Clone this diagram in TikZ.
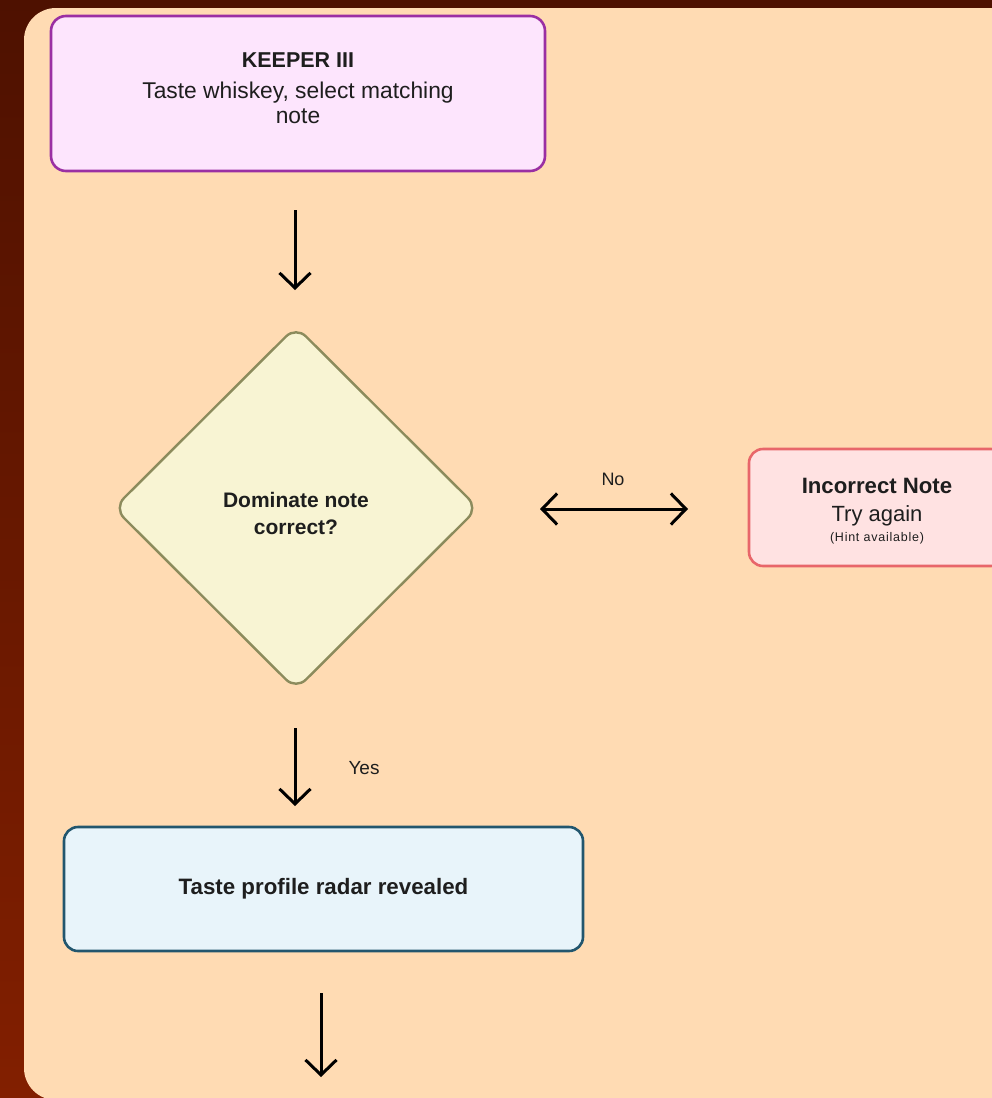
\documentclass[tikz,border=0pt]{standalone}
\usepackage{fontspec}
\setmainfont{Liberation Sans}
\usetikzlibrary{shapes.geometric,arrows.meta}
\definecolor{bgtop}{HTML}{4E1100}
\definecolor{bgbot}{HTML}{821F00}
\definecolor{panelc}{HTML}{FFDBB3}
\definecolor{keepfill}{HTML}{FDE5FD}
\definecolor{keepdraw}{HTML}{9A2FA3}
\definecolor{dfill}{HTML}{F8F4D3}
\definecolor{ddraw}{HTML}{8C8B5C}
\definecolor{ifill}{HTML}{FFE2E2}
\definecolor{idraw}{HTML}{E8666A}
\definecolor{tfill}{HTML}{E8F4FA}
\definecolor{tdraw}{HTML}{22566E}
\definecolor{txt}{HTML}{1E1E1E}
\tikzset{
  boxstyle/.style={rectangle, rounded corners=15pt, line width=2.6pt, inner sep=0pt},
  barb/.style={Straight Barb[length=15pt,width=31pt,line width=3pt]},
  flowarrow/.style={line width=3pt, -{Straight Barb[length=15pt,width=31pt,line width=3pt]}},
  biarrow/.style={line width=3pt, {Straight Barb[length=15pt,width=31pt,line width=3pt]}-{Straight Barb[length=15pt,width=31pt,line width=3pt]}},
  txtstyle/.style={text=txt, align=center, inner sep=0pt},
}
\begin{document}
\begin{tikzpicture}[x=1pt,y=-1pt]
\useasboundingbox (0,0) rectangle (992,1098);
\shade[top color=bgtop, bottom color=bgbot] (0,0) rectangle (992,1098);
\clip (0,0) rectangle (992,1098);
\fill[panelc, rounded corners=32pt] (24,8) rectangle (1040,1100);

% boxes
\node[boxstyle, fill=keepfill, draw=keepdraw, minimum width=494pt, minimum height=155pt] (keeper) at (298,93.5) {};
\node[txtstyle, font=\fontsize{22.8}{25}\selectfont] (keepertxt) at (298,88) {{\bfseries\fontsize{21.5}{25}\selectfont KEEPER III}\\[6pt]Taste whiskey, select matching\\note};

\node[diamond, aspect=1, rounded corners=14pt, fill=dfill, draw=ddraw, line width=2.4pt, minimum width=365pt, minimum height=364pt, inner sep=0pt] (decide) at (296,508) {};
\node[txtstyle, font=\bfseries\fontsize{21}{27}\selectfont] (decidetxt) at (296,513) {Dominate note\\correct?};

\node[boxstyle, rounded corners=14pt, fill=ifill, draw=idraw, minimum width=256pt, minimum height=117pt] (wrong) at (877,507.5) {};
\node[txtstyle, font=\bfseries\fontsize{22.2}{25}\selectfont] (wrongtitle) at (877,486) {Incorrect Note};
\node[txtstyle, font=\fontsize{22}{25}\selectfont] (wrongtry) at (877,516) {Try again};
\node[txtstyle, font=\fontsize{12.5}{14}\selectfont\addfontfeature{LetterSpace=6}] (wronghint) at (877,538) {(Hint available)};

\node[boxstyle, rounded corners=14pt, fill=tfill, draw=tdraw, minimum width=519pt, minimum height=124pt] (radar) at (323.5,889) {};
\node[txtstyle, font=\bfseries\fontsize{22.3}{25}\selectfont] (radartxt) at (323.5,889) {Taste profile radar revealed};

% arrow end points
\coordinate (a1s) at (295,210);
\coordinate (a1e) at (295,290);
\coordinate (a2s) at (540,509);
\coordinate (a2e) at (688,509);
\coordinate (a3s) at (295,728);
\coordinate (a3e) at (295,806);
\coordinate (a4s) at (321,993);
\coordinate (a4e) at (321,1077);

\draw[flowarrow] (a1s) -- (a1e);
\draw[biarrow] (a2s) -- (a2e);
\node[txtstyle, font=\fontsize{18}{20}\selectfont] (nolabel) at (613,479) {No};
\draw[flowarrow] (a3s) -- (a3e);
\node[txtstyle, font=\fontsize{19}{20}\selectfont] (yeslabel) at (364,768) {Yes};
\draw[flowarrow] (a4s) -- (a4e);
\end{tikzpicture}
\end{document}
